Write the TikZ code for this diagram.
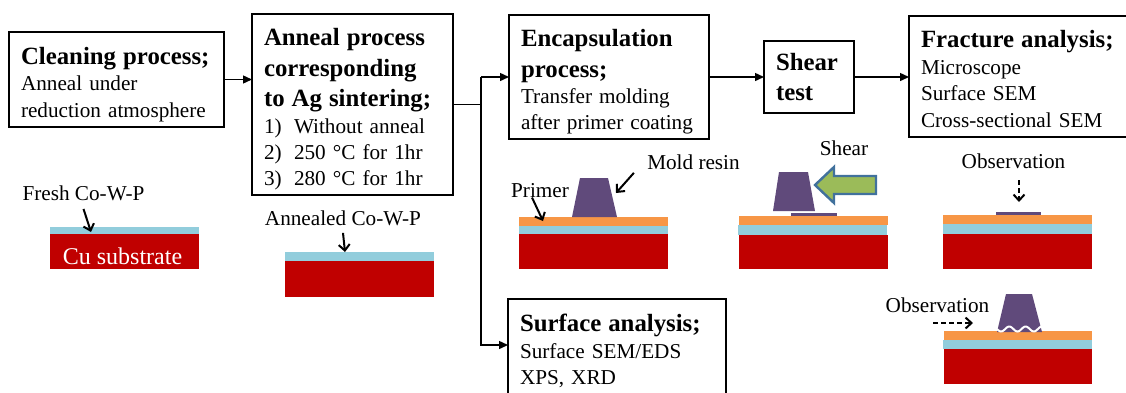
\documentclass[tikz,border=0pt]{standalone}
\usepackage{fontspec}
\setmainfont{Liberation Serif}
\usetikzlibrary{arrows.meta,positioning}
\definecolor{cusub}{HTML}{C00000}
\definecolor{cowp}{HTML}{92CDDC}
\definecolor{primer}{HTML}{F79646}
\definecolor{resin}{HTML}{604A7B}
\definecolor{shearfill}{HTML}{9BBB59}
\definecolor{shearedge}{HTML}{41719C}
\newcommand{\boxhead}[1]{{\fontsize{12.4}{15.2}\selectfont\bfseries #1\par}}

\begin{document}
\begin{tikzpicture}[x=0.5pt, y=-0.5pt,
  procbox/.style={draw, line width=0.8pt, anchor=north west, align=left,
    inner xsep=6pt, inner ysep=0pt, outer sep=0pt,
    font=\fontsize{10.6}{13.2}\selectfont,
    execute at end node={\endgraf\vspace*{-#1}}},
  procbox/.default=0pt,
  lbl/.style={font=\fontsize{10.6}{13.2}\selectfont, inner sep=0pt},
  arr/.style={-{Triangle[length=4.5pt,width=4pt]}, line width=0.7pt},
  ptr/.style={-{Straight Barb[length=3pt,width=5.5pt]}, line width=1pt},
  obs/.style={ptr, dash pattern=on 2.5pt off 1.5pt},
]
\useasboundingbox (0,0) rectangle (1126,392);
\clip (0,0) rectangle (1126,392);

% --- process boxes ---
\node[procbox=5pt, text width=95.5pt, minimum height=47.5pt] (clean) at (9,32)
  {\boxhead{Cleaning process;}Anneal under\\reduction atmosphere};
\node[procbox=5pt, text width=88.5pt, minimum height=90.5pt] (anneal) at (252,14)
  {\boxhead{Anneal process\\corresponding\\to Ag sintering;}%
   \makebox[15pt][l]{1)}Without anneal\\
   \makebox[15pt][l]{2)}250 °C for 1hr\\
   \makebox[15pt][l]{3)}280 °C for 1hr};
\node[procbox=5pt, text width=88pt, minimum height=62pt] (encap) at (509,15)
  {\boxhead{Encapsulation\\process;}Transfer molding\\after primer coating};
\node[procbox, text width=33pt, minimum height=36pt] (shear) at (764,41)
  {\boxhead{Shear\\test}};
\node[procbox=2.5pt, text width=99pt, minimum height=60.5pt] (fracture) at (909,16)
  {\boxhead{Fracture analysis;}Microscope\\Surface SEM\\Cross-sectional SEM};
\node[procbox=2pt, text width=97pt, minimum height=50pt] (surface) at (508,299)
  {\boxhead{Surface analysis;}Surface SEM/EDS\\XPS, XRD};

% --- flow ---
\coordinate (split) at (481,104);
\draw[arr] (clean.east) -- (clean.east -| anneal.west);
\draw[line width=0.7pt] (anneal.east) -- (anneal.east -| split);
\draw[arr] (split |- encap.west) -- (encap.west);
\draw[arr] (split |- encap.west) |- ([yshift=2pt]surface.west);
\draw[arr] (encap.east) -- (encap.east -| shear.west);
\draw[arr] (shear.east) -- (shear.east -| fracture.west);

% --- fresh sample ---
\fill[cowp] (50,227) rectangle (199,234);
\fill[cusub] (50,234) rectangle (199,269);
\node[font=\fontsize{12}{14}\selectfont, text=white, inner sep=0pt] (cu) at (122.5,256) {Cu substrate};
\node[lbl] (fresh) at (83.5,193) {Fresh Co-W-P};
\coordinate (freshtip) at (91,232);
\draw[ptr] ([yshift=-4pt]fresh.south) -- (freshtip);

% --- annealed sample ---
\fill[cowp] (285,252) rectangle (434,261);
\fill[cusub] (285,261) rectangle (434,297);
\node[lbl] (annealed) at (343,218) {Annealed Co-W-P};
\coordinate (annealtip) at (345,252);
\draw[ptr] ([yshift=-3.5pt]annealed.south) -- (annealtip);

% --- molded sample ---
\fill[primer] (519,217) rectangle (668,226);
\fill[cowp] (519,226) rectangle (668,234);
\fill[cusub] (519,234) rectangle (668,269);
\fill[resin] (572,217) -- (580,178) -- (608,178) -- (617,217) -- cycle;
\node[lbl] (primerlbl) at (540,191) {Primer};
\coordinate (primertip) at (543,221);
\draw[ptr] ([shift={(-8,-1)}]primerlbl.south) -- (primertip);
\node[lbl] (moldlbl) at (693.5,162) {Mold resin};
\coordinate (moldtip) at (616,193);
\draw[ptr] ([shift={(-13,3)}]moldlbl.south west) -- (moldtip);

% --- shear test ---
\fill[primer] (739,216) rectangle (888,225);
\fill[cowp] (738,225) rectangle (887,235);
\fill[cusub] (739,235) rectangle (888,269);
\fill[resin] (791,213) rectangle (837,216);
\fill[resin] (773,211) -- (779,172) -- (808,172) -- (815,211) -- cycle;
\draw[shearedge, fill=shearfill, line width=1.2pt, line join=miter]
  (815,185) -- (834,167) -- (834,176) -- (876,176) -- (876,194)
  -- (834,194) -- (834,203) -- cycle;
\node[lbl] (shearlbl) at (844,148) {Shear};

% --- top view after fracture ---
\fill[primer] (943,215) rectangle (1092,224);
\fill[cowp] (943,224) rectangle (1092,234);
\fill[cusub] (943,234) rectangle (1092,269);
\fill[resin] (996,212) rectangle (1041,215);
\node[lbl] (obstop) at (1013.5,161) {Observation};
\coordinate (obstoptip) at (1019,202);
\draw[obs] (obstoptip) ++(0,-22) -- (obstoptip);

% --- cross-section after fracture ---
\fill[primer] (944,331) rectangle (1092,340);
\fill[cowp] (943,340) rectangle (1092,349);
\fill[cusub] (944,349) rectangle (1092,384);
\fill[resin] (997,332) -- (1006,294) -- (1032,294) -- (1042,332) -- cycle;
\draw[white, line width=1pt] plot[domain=997:1045, samples=50]
  (\x, {329+2.5*sin(22*(\x-997))});
\node[lbl] (obsside) at (937.5,305) {Observation};
\coordinate (obssidetip) at (973,323);
\draw[obs] (obssidetip) ++(-40,0) -- (obssidetip);
\end{tikzpicture}
\end{document}
